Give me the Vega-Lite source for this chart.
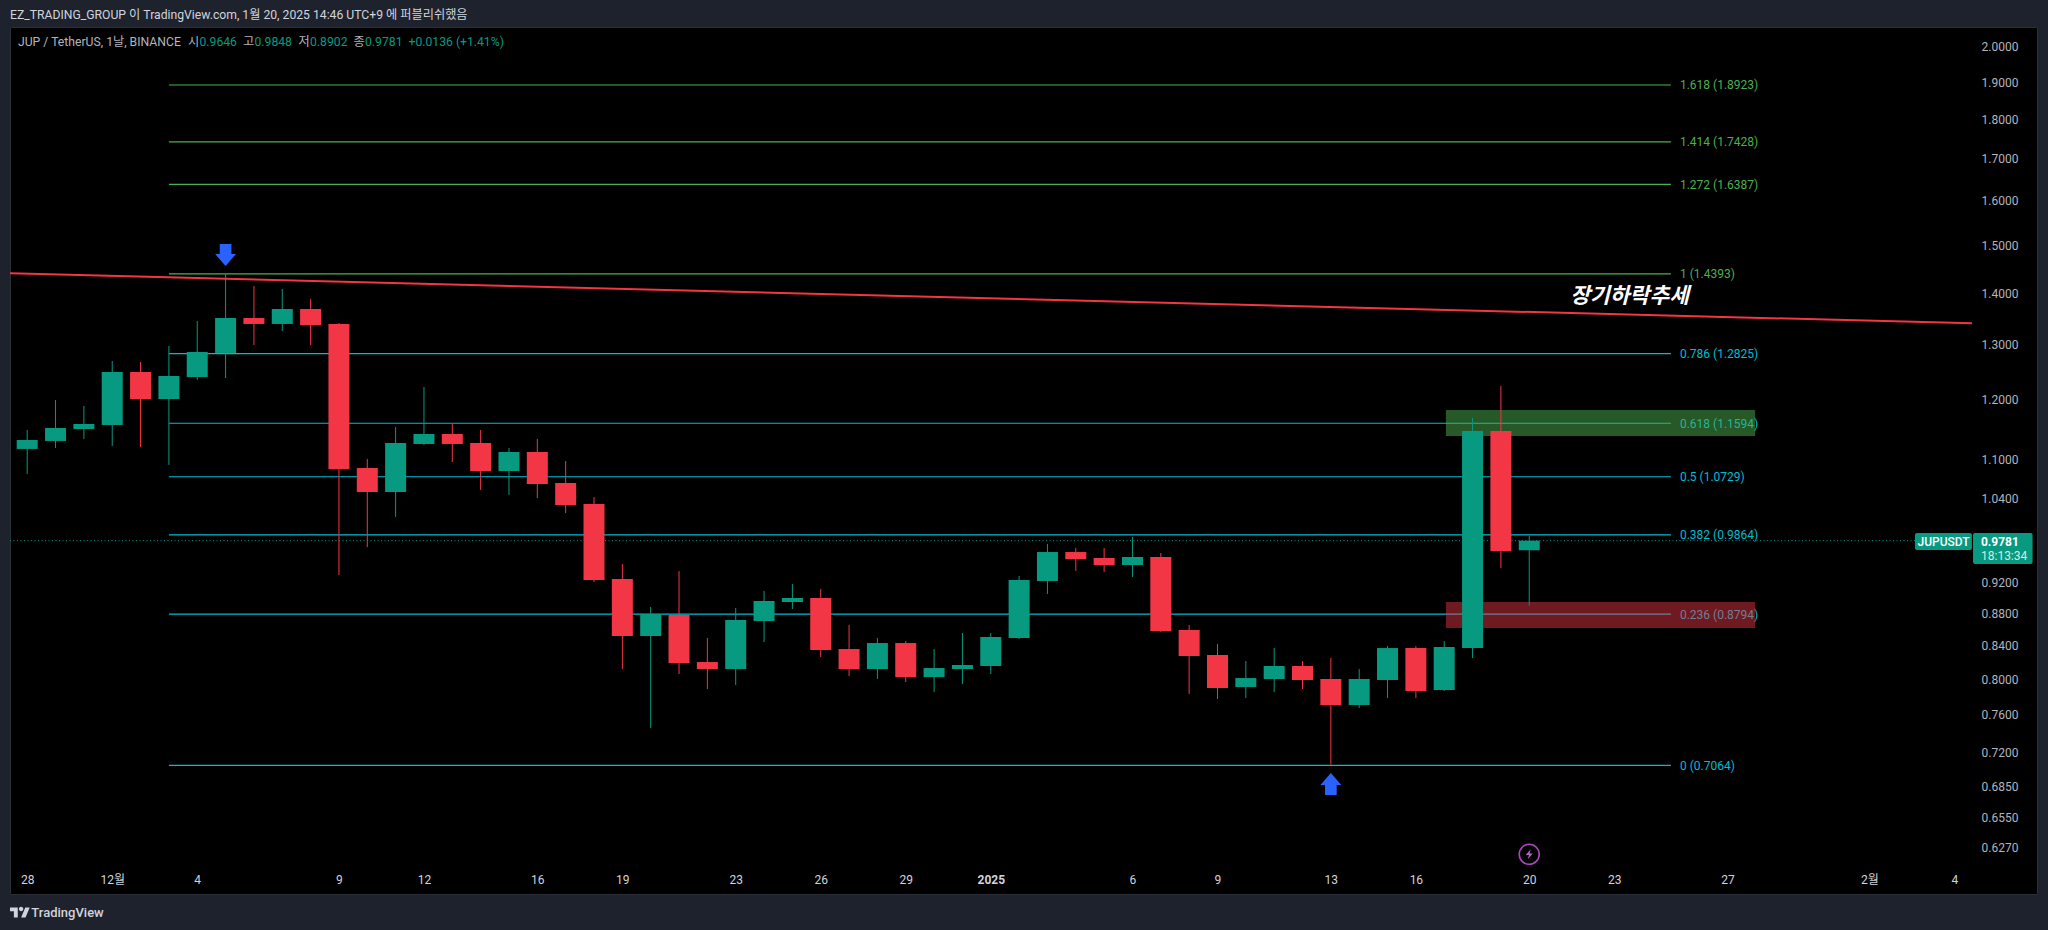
{
  "$schema": "https://vega.github.io/schema/vega-lite/v6.json",
  "width": 2027,
  "height": 867,
  "autosize": "none",
  "padding": {"left": 10, "top": 27, "right": 11, "bottom": 36},
  "background": "#1e222d",
  "title": {
    "text": "EZ_TRADING_GROUP 이 TradingView.com, 1월 20, 2025 14:46 UTC+9 에 퍼블리쉬했음",
    "anchor": "start",
    "frame": "group",
    "offset": 6,
    "color": "#d1d4dc",
    "font": "Roboto, Noto Sans CJK KR",
    "fontSize": 12.2,
    "fontWeight": "normal"
  },
  "config": {
    "view": {"fill": "#000000", "stroke": "#2a2e39"},
    "font": "Roboto, Noto Sans CJK KR",
    "text": {"font": "Roboto, Noto Sans CJK KR", "fontSize": 12, "baseline": "middle", "align": "left"}
  },
  "datasets": {
    "candles": [
      {"date": "2024-11-28", "open": 1.1170, "high": 1.1481, "low": 1.0773, "close": 1.1316},
      {"date": "2024-11-29", "open": 1.1300, "high": 1.1991, "low": 1.1186, "close": 1.1514},
      {"date": "2024-11-30", "open": 1.1498, "high": 1.1887, "low": 1.1333, "close": 1.1581},
      {"date": "2024-12-01", "open": 1.1565, "high": 1.2688, "low": 1.1218, "close": 1.2487},
      {"date": "2024-12-02", "open": 1.2487, "high": 1.2670, "low": 1.1202, "close": 1.2008},
      {"date": "2024-12-03", "open": 1.2008, "high": 1.2967, "low": 1.0914, "close": 1.2415},
      {"date": "2024-12-04", "open": 1.2397, "high": 1.3445, "low": 1.2344, "close": 1.2854},
      {"date": "2024-12-05", "open": 1.2836, "high": 1.4393, "low": 1.2379, "close": 1.3503},
      {"date": "2024-12-06", "open": 1.3503, "high": 1.4144, "low": 1.2985, "close": 1.3387},
      {"date": "2024-12-07", "open": 1.3387, "high": 1.4083, "low": 1.3251, "close": 1.3680},
      {"date": "2024-12-08", "open": 1.3680, "high": 1.3880, "low": 1.2985, "close": 1.3367},
      {"date": "2024-12-09", "open": 1.3387, "high": 1.3406, "low": 0.9306, "close": 1.0851},
      {"date": "2024-12-10", "open": 1.0866, "high": 1.1009, "low": 0.9691, "close": 1.0495},
      {"date": "2024-12-11", "open": 1.0495, "high": 1.1531, "low": 1.0122, "close": 1.1267},
      {"date": "2024-12-12", "open": 1.1251, "high": 1.2219, "low": 1.1234, "close": 1.1415},
      {"date": "2024-12-13", "open": 1.1415, "high": 1.1581, "low": 1.0961, "close": 1.1251},
      {"date": "2024-12-14", "open": 1.1267, "high": 1.1481, "low": 1.0526, "close": 1.0819},
      {"date": "2024-12-15", "open": 1.0819, "high": 1.1186, "low": 1.0450, "close": 1.1121},
      {"date": "2024-12-16", "open": 1.1121, "high": 1.1333, "low": 1.0404, "close": 1.0617},
      {"date": "2024-12-17", "open": 1.0633, "high": 1.0977, "low": 1.0181, "close": 1.0299},
      {"date": "2024-12-18", "open": 1.0314, "high": 1.0419, "low": 0.9212, "close": 0.9239},
      {"date": "2024-12-19", "open": 0.9252, "high": 0.9455, "low": 0.8121, "close": 0.8519},
      {"date": "2024-12-20", "open": 0.8519, "high": 0.8885, "low": 0.7456, "close": 0.8795},
      {"date": "2024-12-21", "open": 0.8782, "high": 0.9360, "low": 0.8063, "close": 0.8192},
      {"date": "2024-12-22", "open": 0.8204, "high": 0.8495, "low": 0.7890, "close": 0.8122},
      {"date": "2024-12-23", "open": 0.8122, "high": 0.8872, "low": 0.7936, "close": 0.8719},
      {"date": "2024-12-24", "open": 0.8706, "high": 0.9093, "low": 0.8445, "close": 0.8962},
      {"date": "2024-12-25", "open": 0.8949, "high": 0.9186, "low": 0.8859, "close": 0.9001},
      {"date": "2024-12-26", "open": 0.9001, "high": 0.9120, "low": 0.8264, "close": 0.8349},
      {"date": "2024-12-27", "open": 0.8360, "high": 0.8656, "low": 0.8040, "close": 0.8122},
      {"date": "2024-12-28", "open": 0.8122, "high": 0.8495, "low": 0.8005, "close": 0.8433},
      {"date": "2024-12-29", "open": 0.8433, "high": 0.8458, "low": 0.7970, "close": 0.8028},
      {"date": "2024-12-30", "open": 0.8028, "high": 0.8360, "low": 0.7856, "close": 0.8133},
      {"date": "2024-12-31", "open": 0.8122, "high": 0.8557, "low": 0.7947, "close": 0.8169},
      {"date": "2025-01-01", "open": 0.8157, "high": 0.8557, "low": 0.8063, "close": 0.8507},
      {"date": "2025-01-02", "open": 0.8495, "high": 0.9293, "low": 0.8482, "close": 0.9239},
      {"date": "2025-01-03", "open": 0.9226, "high": 0.9734, "low": 0.9054, "close": 0.9621},
      {"date": "2025-01-04", "open": 0.9621, "high": 0.9677, "low": 0.9360, "close": 0.9524},
      {"date": "2025-01-05", "open": 0.9538, "high": 0.9677, "low": 0.9347, "close": 0.9442},
      {"date": "2025-01-06", "open": 0.9442, "high": 0.9833, "low": 0.9279, "close": 0.9552},
      {"date": "2025-01-07", "open": 0.9552, "high": 0.9607, "low": 0.8569, "close": 0.8581},
      {"date": "2025-01-08", "open": 0.8594, "high": 0.8656, "low": 0.7833, "close": 0.8276},
      {"date": "2025-01-09", "open": 0.8288, "high": 0.8421, "low": 0.7776, "close": 0.7901},
      {"date": "2025-01-10", "open": 0.7913, "high": 0.8216, "low": 0.7788, "close": 0.8016},
      {"date": "2025-01-11", "open": 0.8005, "high": 0.8372, "low": 0.7856, "close": 0.8157},
      {"date": "2025-01-12", "open": 0.8157, "high": 0.8216, "low": 0.7890, "close": 0.7993},
      {"date": "2025-01-13", "open": 0.8005, "high": 0.8252, "low": 0.7070, "close": 0.7709},
      {"date": "2025-01-14", "open": 0.7709, "high": 0.8122, "low": 0.7675, "close": 0.8005},
      {"date": "2025-01-15", "open": 0.7993, "high": 0.8397, "low": 0.7788, "close": 0.8372},
      {"date": "2025-01-16", "open": 0.8372, "high": 0.8396, "low": 0.7787, "close": 0.7866},
      {"date": "2025-01-17", "open": 0.7878, "high": 0.8457, "low": 0.7866, "close": 0.8384},
      {"date": "2025-01-18", "open": 0.8372, "high": 1.1682, "low": 0.8252, "close": 1.1464},
      {"date": "2025-01-19", "open": 1.1464, "high": 1.2236, "low": 0.9401, "close": 0.9635},
      {"date": "2025-01-20", "open": 0.9646, "high": 0.9848, "low": 0.8902, "close": 0.9781}
    ],
    "fib": [
      {"label": "1.618 (1.8923)", "price": 1.8923, "group": "extension", "start": "2024-12-03", "end": "2025-01-25"},
      {"label": "1.414 (1.7428)", "price": 1.7428, "group": "extension", "start": "2024-12-03", "end": "2025-01-25"},
      {"label": "1.272 (1.6387)", "price": 1.6387, "group": "extension", "start": "2024-12-03", "end": "2025-01-25"},
      {"label": "1 (1.4393)", "price": 1.4393, "group": "extension", "start": "2024-12-03", "end": "2025-01-25"},
      {"label": "0.786 (1.2825)", "price": 1.2825, "group": "retracement", "start": "2024-12-03", "end": "2025-01-25"},
      {"label": "0.618 (1.1594)", "price": 1.1594, "group": "retracement", "start": "2024-12-03", "end": "2025-01-25"},
      {"label": "0.5 (1.0729)", "price": 1.0729, "group": "retracement", "start": "2024-12-03", "end": "2025-01-25"},
      {"label": "0.382 (0.9864)", "price": 0.9864, "group": "retracement", "start": "2024-12-03", "end": "2025-01-25"},
      {"label": "0.236 (0.8794)", "price": 0.8794, "group": "retracement", "start": "2024-12-03", "end": "2025-01-25"},
      {"label": "0 (0.7064)", "price": 0.7064, "group": "retracement", "start": "2024-12-03", "end": "2025-01-25"}
    ],
    "zones": [
      {"zone": "resistance", "start": "2025-01-17T01:26:00Z", "end": "2025-01-27T23:17:00Z", "top": 1.1818, "bottom": 1.1381},
      {"zone": "support", "start": "2025-01-17T01:26:00Z", "end": "2025-01-27T23:17:00Z", "top": 0.8949, "bottom": 0.8618}
    ],
    "trend": [
      {"date": "2024-11-27T09:26:00Z", "price": 1.4406},
      {"date": "2025-02-04T14:53:00Z", "price": 1.3400}
    ],
    "lastPrice": [
      {"start": "2024-11-27T09:26:00Z", "end": "2025-02-02T14:38:00Z", "price": 0.9781}
    ],
    "tags": [
      {"start": "2025-02-02T14:38:00Z", "end": "2025-02-04T14:53:00Z", "top": 0.9889, "bottom": 0.9649},
      {"start": "2025-02-04T15:50:00Z", "end": "2025-02-06T18:14:00Z", "top": 0.9889, "bottom": 0.9455}
    ],
    "legendLabels": [
      {"text": "JUP / TetherUS, 1날, BINANCE", "date": "2024-11-27T16:12:00Z", "price": 2.0139},
      {"text": "시", "date": "2024-12-03T16:11:00Z", "price": 2.0139},
      {"text": "고", "date": "2024-12-05T14:46:00Z", "price": 2.0139},
      {"text": "저", "date": "2024-12-07T13:51:00Z", "price": 2.0139},
      {"text": "종", "date": "2024-12-09T12:24:00Z", "price": 2.0139}
    ],
    "legendValues": [
      {"text": "0.9646", "date": "2024-12-04T01:55:00Z", "price": 2.0139},
      {"text": "0.9848", "date": "2024-12-06T00:29:00Z", "price": 2.0139},
      {"text": "0.8902", "date": "2024-12-07T23:31:00Z", "price": 2.0139},
      {"text": "0.9781", "date": "2024-12-09T22:05:00Z", "price": 2.0139},
      {"text": "+0.0136 (+1.41%)", "date": "2024-12-11T10:53:00Z", "price": 2.0139}
    ]
  },
  "layer": [
    {
      "data": {"name": "fib"},
      "mark": {"type": "rule", "strokeWidth": 1.2},
      "encoding": {
        "x": {
          "field": "start",
          "type": "temporal",
          "scale": {"type": "utc", "domain": ["2024-11-27T09:26:00Z", "2025-02-06T22:00:00Z"], "nice": false, "padding": 0},
          "axis": {
            "orient": "bottom",
            "title": null,
            "grid": false,
            "domain": false,
            "ticks": false,
            "offset": -20,
            "labelPadding": 0,
            "labelBaseline": "top",
            "labelColor": "#d1d4dc",
            "labelFont": "Roboto, Noto Sans CJK KR",
            "labelFontSize": 12,
            "labelFlush": false,
            "labelOverlap": false,
            "labelFontWeight": {"condition": {"test": "utcdate(datum.value) == 1 && utcmonth(datum.value) == 0", "value": "bold"}, "value": "normal"},
            "values": ["2024-11-28", "2024-12-01", "2024-12-04", "2024-12-09", "2024-12-12", "2024-12-16", "2024-12-19", "2024-12-23", "2024-12-26", "2024-12-29", "2025-01-01", "2025-01-06", "2025-01-09", "2025-01-13", "2025-01-16", "2025-01-20", "2025-01-23", "2025-01-27", "2025-02-01", "2025-02-04"],
            "labelExpr": "utcdate(datum.value) == 1 ? (utcmonth(datum.value) == 0 ? '2025' : (utcmonth(datum.value) + 1) + '월') : utcdate(datum.value)"
          }
        },
        "x2": {"field": "end"},
        "y": {
          "field": "price",
          "type": "quantitative",
          "scale": {"type": "log", "domain": [0.5863, 2.0581], "nice": false, "zero": false},
          "axis": {
            "orient": "right",
            "title": null,
            "grid": false,
            "domain": false,
            "ticks": false,
            "offset": -56,
            "labelPadding": 0,
            "labelAlign": "left",
            "labelColor": "#b2b5be",
            "labelFont": "Roboto",
            "labelFontSize": 12,
            "labelOverlap": false,
            "labelFlush": false,
            "format": ".4f",
            "values": [2.0, 1.9, 1.8, 1.7, 1.6, 1.5, 1.4, 1.3, 1.2, 1.1, 1.04, 0.92, 0.88, 0.84, 0.8, 0.76, 0.72, 0.685, 0.655, 0.627]
          }
        },
        "color": {
          "field": "group",
          "type": "nominal",
          "scale": {"domain": ["extension", "retracement"], "range": ["#4caf50", "#00bcd4"]},
          "legend": null
        }
      }
    },
    {
      "data": {"name": "fib"},
      "mark": {"type": "text", "dx": 9, "dy": 0.5},
      "encoding": {
        "x": {"field": "end", "type": "temporal"},
        "y": {"field": "price", "type": "quantitative"},
        "text": {"field": "label"},
        "color": {"field": "group", "type": "nominal", "legend": null}
      }
    },
    {
      "data": {"name": "zones"},
      "transform": [{"filter": "datum.zone == 'resistance'"}],
      "mark": {"type": "rect", "color": "#4caf50", "opacity": 0.5},
      "encoding": {
        "x": {"field": "start", "type": "temporal"},
        "x2": {"field": "end"},
        "y": {"field": "top", "type": "quantitative"},
        "y2": {"field": "bottom"}
      }
    },
    {
      "data": {"name": "zones"},
      "transform": [{"filter": "datum.zone == 'support'"}],
      "mark": {"type": "rect", "color": "#f23645", "opacity": 0.46},
      "encoding": {
        "x": {"field": "start", "type": "temporal"},
        "x2": {"field": "end"},
        "y": {"field": "top", "type": "quantitative"},
        "y2": {"field": "bottom"}
      }
    },
    {
      "data": {"name": "lastPrice"},
      "mark": {"type": "rule", "color": "#089981", "strokeWidth": 1, "strokeDash": [1, 2.5]},
      "encoding": {
        "x": {"field": "start", "type": "temporal"},
        "x2": {"field": "end"},
        "y": {"field": "price", "type": "quantitative"}
      }
    },
    {
      "data": {"name": "candles"},
      "mark": {"type": "rule", "strokeWidth": 1},
      "encoding": {
        "x": {"field": "date", "type": "temporal"},
        "y": {"field": "low", "type": "quantitative"},
        "y2": {"field": "high"},
        "color": {"condition": {"test": "datum.open < datum.close", "value": "#089981"}, "value": "#f23645"}
      }
    },
    {
      "data": {"name": "candles"},
      "mark": {"type": "bar", "size": 21},
      "encoding": {
        "x": {"field": "date", "type": "temporal"},
        "y": {"field": "open", "type": "quantitative"},
        "y2": {"field": "close"},
        "color": {"condition": {"test": "datum.open < datum.close", "value": "#089981"}, "value": "#f23645"}
      }
    },
    {
      "data": {"name": "trend"},
      "mark": {"type": "line", "color": "#f23645", "strokeWidth": 2},
      "encoding": {
        "x": {"field": "date", "type": "temporal"},
        "y": {"field": "price", "type": "quantitative"}
      }
    },
    {
      "data": {"values": [{"date": "2024-12-05", "price": 1.4793}]},
      "mark": {"type": "point", "filled": true, "opacity": 1, "color": "#2962ff", "size": 484, "shape": "M -0.53 -1 L 0.53 -1 L 0.53 -0.09 L 0.95 -0.09 L 0 1 L -0.95 -0.09 L -0.53 -0.09 Z"},
      "encoding": {
        "x": {"field": "date", "type": "temporal"},
        "y": {"field": "price", "type": "quantitative"}
      }
    },
    {
      "data": {"values": [{"date": "2025-01-13", "price": 0.6875}]},
      "mark": {"type": "point", "filled": true, "opacity": 1, "color": "#2962ff", "size": 484, "shape": "M 0 -1 L 0.95 0.09 L 0.53 0.09 L 0.53 1 L -0.53 1 L -0.53 0.09 L -0.95 0.09 Z"},
      "encoding": {
        "x": {"field": "date", "type": "temporal"},
        "y": {"field": "price", "type": "quantitative"}
      }
    },
    {
      "data": {"values": [{"date": "2025-01-20", "price": 0.6210}]},
      "mark": {"type": "point", "filled": false, "opacity": 1, "color": "#ab47bc", "strokeWidth": 1.6, "size": 400, "shape": "circle"},
      "encoding": {
        "x": {"field": "date", "type": "temporal"},
        "y": {"field": "price", "type": "quantitative"}
      }
    },
    {
      "data": {"values": [{"date": "2025-01-20", "price": 0.6210}]},
      "mark": {"type": "point", "filled": true, "opacity": 1, "color": "#ba68c8", "size": 100, "shape": "M 0.3 -1 L -0.7 0.15 L -0.05 0.15 L -0.3 1 L 0.7 -0.15 L 0.05 -0.15 Z"},
      "encoding": {
        "x": {"field": "date", "type": "temporal"},
        "y": {"field": "price", "type": "quantitative"}
      }
    },
    {
      "data": {"values": [{"text": "장기하락추세", "date": "2025-01-23T13:00:00Z", "price": 1.392}]},
      "mark": {"type": "text", "align": "center", "font": "Noto Sans CJK KR", "fontSize": 21.5, "fontWeight": "bold", "fontStyle": "italic", "color": "#ffffff"},
      "encoding": {
        "x": {"field": "date", "type": "temporal"},
        "y": {"field": "price", "type": "quantitative"},
        "text": {"field": "text"}
      }
    },
    {
      "data": {"name": "legendLabels"},
      "mark": {"type": "text", "color": "#b2b5be", "fontSize": 12.2},
      "encoding": {
        "x": {"field": "date", "type": "temporal"},
        "y": {"field": "price", "type": "quantitative"},
        "text": {"field": "text"}
      }
    },
    {
      "data": {"name": "legendValues"},
      "mark": {"type": "text", "color": "#089981", "fontSize": 12.2},
      "encoding": {
        "x": {"field": "date", "type": "temporal"},
        "y": {"field": "price", "type": "quantitative"},
        "text": {"field": "text"}
      }
    },
    {
      "data": {"name": "tags"},
      "mark": {"type": "rect", "color": "#089981", "cornerRadius": 2},
      "encoding": {
        "x": {"field": "start", "type": "temporal"},
        "x2": {"field": "end"},
        "y": {"field": "top", "type": "quantitative"},
        "y2": {"field": "bottom"}
      }
    },
    {
      "data": {"values": [{"text": "JUPUSDT", "date": "2025-02-03T14:53:00Z", "price": 0.9768}]},
      "mark": {"type": "text", "align": "center", "color": "#ffffff", "fontWeight": 500},
      "encoding": {
        "x": {"field": "date", "type": "temporal"},
        "y": {"field": "price", "type": "quantitative"},
        "text": {"field": "text"}
      }
    },
    {
      "data": {"values": [{"text": "0.9781", "date": "2025-02-04T22:34:00Z", "price": 0.9768}]},
      "mark": {"type": "text", "color": "#ffffff", "fontWeight": "bold"},
      "encoding": {
        "x": {"field": "date", "type": "temporal"},
        "y": {"field": "price", "type": "quantitative"},
        "text": {"field": "text"}
      }
    },
    {
      "data": {"values": [{"text": "18:13:34", "date": "2025-02-04T22:34:00Z", "price": 0.9569}]},
      "mark": {"type": "text", "color": "#d1ece6"},
      "encoding": {
        "x": {"field": "date", "type": "temporal"},
        "y": {"field": "price", "type": "quantitative"},
        "text": {"field": "text"}
      }
    },
    {
      "data": {"values": [{"date": "2024-11-27T17:54:00Z", "price": 0.5709}]},
      "mark": {"type": "point", "filled": true, "opacity": 1, "color": "#d1d4dc", "size": 400, "shape": "M -0.222 0.5 L -0.611 0.5 L -0.611 -0.111 L -1 -0.111 L -1 -0.5 L -0.222 -0.5 Z M 0.556 0.5 L 0.111 0.5 L 0.528 -0.5 L 0.972 -0.5 Z M -0.111 -0.333 A 0.222 0.222 0 1 0 0.333 -0.333 A 0.222 0.222 0 1 0 -0.111 -0.333 Z"},
      "encoding": {
        "x": {"field": "date", "type": "temporal"},
        "y": {"field": "price", "type": "quantitative"}
      }
    },
    {
      "data": {"values": [{"text": "TradingView", "date": "2024-11-28T03:30:00Z", "price": 0.5706}]},
      "mark": {"type": "text", "color": "#d1d4dc", "fontSize": 13, "fontWeight": 500},
      "encoding": {
        "x": {"field": "date", "type": "temporal"},
        "y": {"field": "price", "type": "quantitative"},
        "text": {"field": "text"}
      }
    }
  ]
}
